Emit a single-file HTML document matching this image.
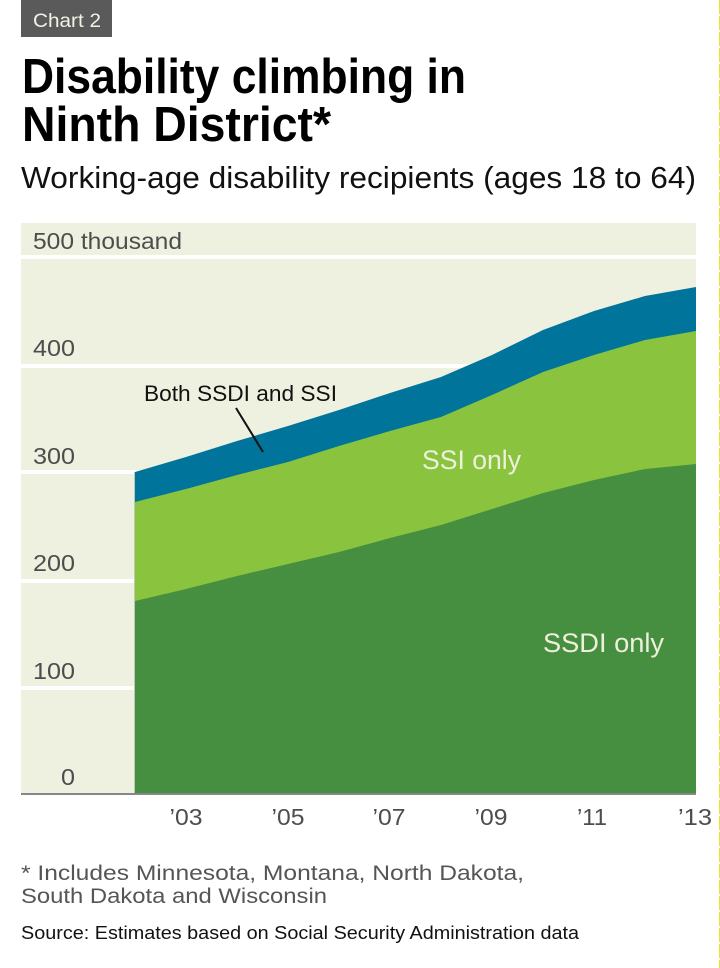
<!DOCTYPE html>
<html>
<head>
<meta charset="utf-8">
<style>
  html, body { margin: 0; padding: 0; background: #ffffff; }
  body { width: 720px; height: 968px; overflow: hidden; }
  svg { display: block; font-family: "Liberation Sans", "DejaVu Sans", sans-serif; }
</style>
</head>
<body>
<svg width="720" height="968" viewBox="0 0 720 968" xmlns="http://www.w3.org/2000/svg">
  <!-- right edge dashed yellow line -->
  <line x1="719.5" y1="0" x2="719.5" y2="968" stroke="#e6e62e" stroke-width="1" stroke-dasharray="14 2"/>

  <!-- Chart tag -->
  <rect x="21" y="0" width="91" height="37" fill="#5a5a5a"/>
  <text x="33" y="27" font-size="19" fill="#f2f2e6" textLength="68" lengthAdjust="spacingAndGlyphs">Chart 2</text>

  <!-- Title -->
  <text x="22" y="93" font-size="49" font-weight="bold" fill="#000" textLength="444" lengthAdjust="spacingAndGlyphs">Disability climbing in</text>
  <text x="22" y="141" font-size="49" font-weight="bold" fill="#000" textLength="309" lengthAdjust="spacingAndGlyphs">Ninth District*</text>

  <!-- Subtitle -->
  <text x="21" y="188" font-size="31" fill="#111" textLength="675" lengthAdjust="spacingAndGlyphs">Working-age disability recipients (ages 18 to 64)</text>

  <!-- Plot background -->
  <rect x="21" y="223" width="675" height="571" fill="#eef0e0"/>

  <!-- gridlines -->
  <rect x="21" y="255" width="675" height="4" fill="#ffffff"/>
  <rect x="21" y="364" width="675" height="4" fill="#ffffff"/>
  <rect x="21" y="470" width="675" height="4" fill="#ffffff"/>
  <rect x="21" y="579" width="675" height="4" fill="#ffffff"/>
  <rect x="21" y="686" width="675" height="4" fill="#ffffff"/>

  <!-- Areas -->
  <polygon fill="#01749c" points="135,472 186,457 237,441 288,426 339,410 390,393 441,377 492,355 543,330 594,311 645,296 696,287 696,794 135,794"/>
  <polygon fill="#8ac43f" points="135,502 186,489 237,475 288,462 339,446 390,431 441,417 492,395 543,372 594,355 645,340 696,331 696,794 135,794"/>
  <polygon fill="#468f40" points="135,601 186,589 237,576 288,564 339,552 390,538 441,525 492,509 543,493 594,480 645,469 696,464 696,794 135,794"/>
  <line x1="134.5" y1="472" x2="134.5" y2="794" stroke="#b9cbb4" stroke-width="1"/>

  <!-- axis line -->
  <rect x="21" y="793" width="675" height="2" fill="#878787"/>

  <!-- Y labels -->
  <g font-size="23" fill="#4d4d4d">
    <text x="33" y="249" textLength="149" lengthAdjust="spacingAndGlyphs">500 thousand</text>
    <text x="75" y="356" text-anchor="end" textLength="42" lengthAdjust="spacingAndGlyphs">400</text>
    <text x="75" y="464" text-anchor="end" textLength="42" lengthAdjust="spacingAndGlyphs">300</text>
    <text x="75" y="571" text-anchor="end" textLength="42" lengthAdjust="spacingAndGlyphs">200</text>
    <text x="75" y="679" text-anchor="end" textLength="42" lengthAdjust="spacingAndGlyphs">100</text>
    <text x="75" y="785" text-anchor="end" textLength="14" lengthAdjust="spacingAndGlyphs">0</text>
  </g>

  <!-- X labels -->
  <g font-size="23" fill="#4d4d4d" text-anchor="middle">
    <text x="186" y="825" textLength="33" lengthAdjust="spacingAndGlyphs">’03</text>
    <text x="288" y="825" textLength="33" lengthAdjust="spacingAndGlyphs">’05</text>
    <text x="389" y="825" textLength="33" lengthAdjust="spacingAndGlyphs">’07</text>
    <text x="491" y="825" textLength="33" lengthAdjust="spacingAndGlyphs">’09</text>
    <text x="592" y="825" textLength="30" lengthAdjust="spacingAndGlyphs">’11</text>
    <text x="695" y="825" textLength="34" lengthAdjust="spacingAndGlyphs">’13</text>
  </g>

  <!-- Series labels -->
  <text x="144" y="401" font-size="22" fill="#111" textLength="193" lengthAdjust="spacingAndGlyphs">Both SSDI and SSI</text>
  <line x1="236" y1="408" x2="263" y2="452" stroke="#111" stroke-width="2"/>
  <text x="422" y="469" font-size="27" fill="#eef0dc" textLength="99" lengthAdjust="spacingAndGlyphs">SSI only</text>
  <text x="543" y="652" font-size="27" fill="#eef0dc" textLength="121" lengthAdjust="spacingAndGlyphs">SSDI only</text>

  <!-- Footnotes -->
  <text x="21" y="880" font-size="21" fill="#555" textLength="503" lengthAdjust="spacingAndGlyphs">* Includes Minnesota, Montana, North Dakota,</text>
  <text x="21" y="903" font-size="21" fill="#555" textLength="306" lengthAdjust="spacingAndGlyphs">South Dakota and Wisconsin</text>
  <text x="21" y="939" font-size="18" fill="#111" textLength="558" lengthAdjust="spacingAndGlyphs">Source: Estimates based on Social Security Administration data</text>
</svg>
</body>
</html>
